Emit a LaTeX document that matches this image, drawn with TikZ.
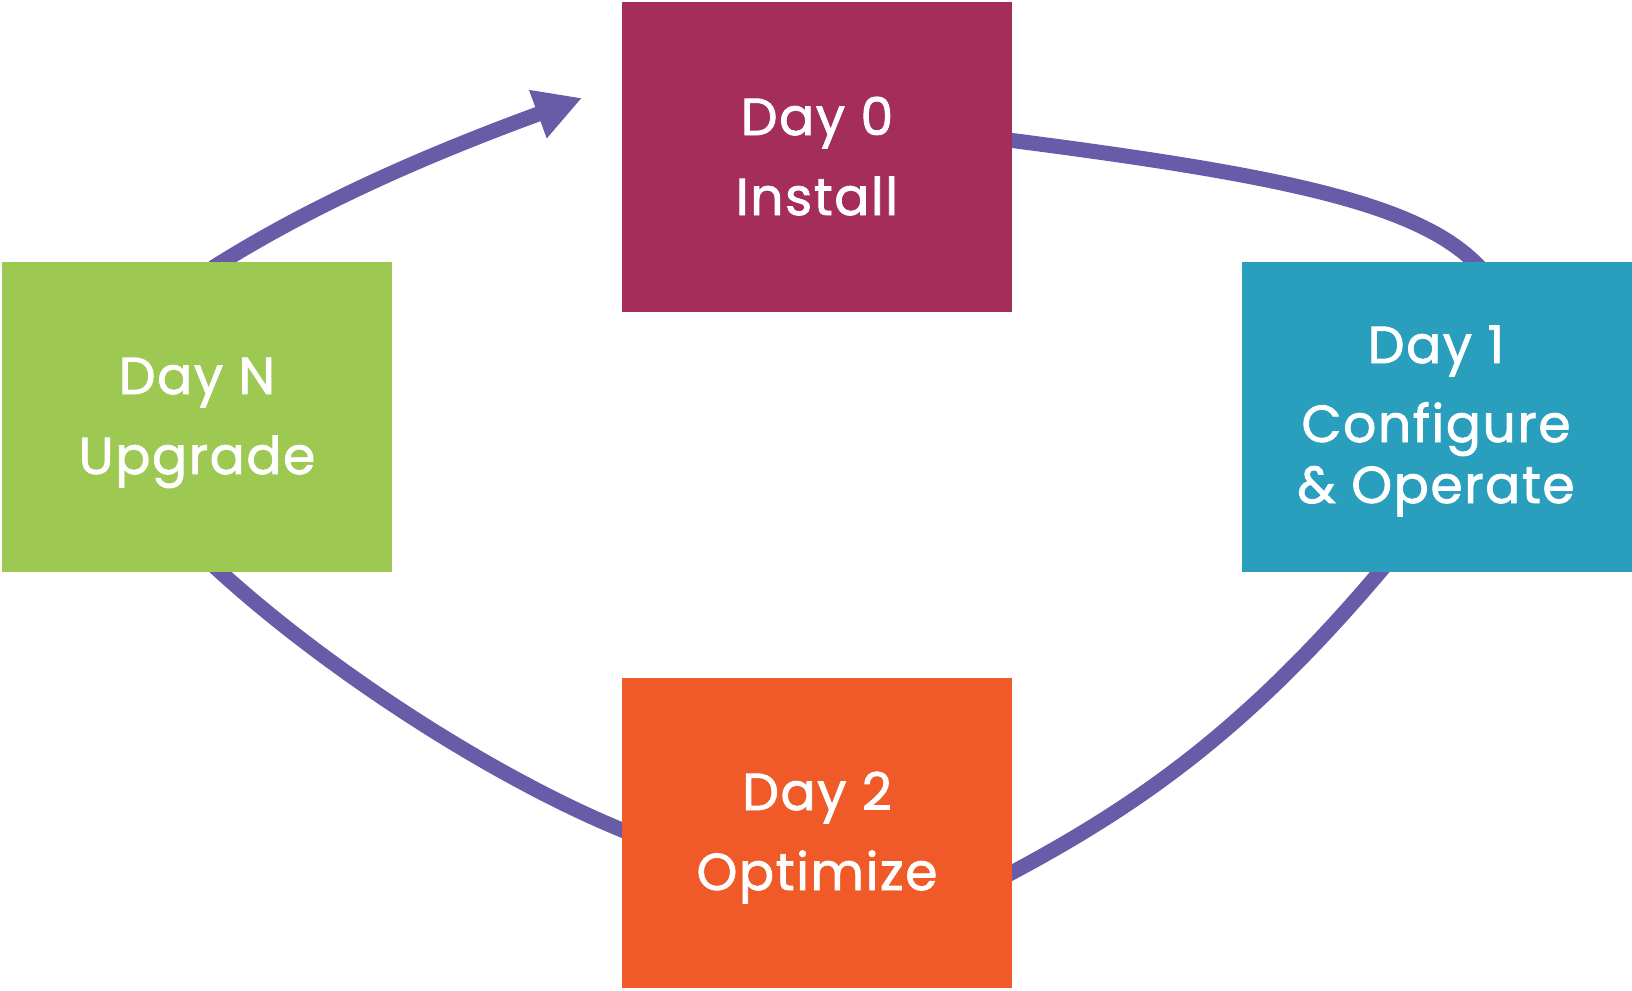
\documentclass[tikz,border=0pt]{standalone}
\usepackage{fontspec}
\setmainfont{Poppins}[LetterSpace=3,FakeBold=1.5]
\usetikzlibrary{arrows.meta}
\pgfdeclarelayer{background}
\pgfsetlayers{background,main}
\definecolor{cday0}{RGB}{165,45,90}
\definecolor{cday1}{RGB}{42,159,189}
\definecolor{cdayn}{RGB}{157,200,82}
\definecolor{cday2}{RGB}{240,90,41}
\definecolor{cflow}{RGB}{104,92,168}
\begin{document}
\begin{tikzpicture}[x=1pt,y=-1pt,
  box/.style={minimum width=390pt,minimum height=310pt,inner sep=0pt,draw=none},
  lbl/.style={text=white,font=\fontsize{52}{52}\selectfont,anchor=base,inner sep=0pt},
  flow/.style={draw=cflow,line width=15pt,shorten <=-12pt},
  flowboth/.style={flow,shorten >=-12pt}]
\useasboundingbox (0,0) rectangle (1632,990);
\node[box,fill=cday0] (b0) at (817,157) {};
\node[box,fill=cday1] (b1) at (1436.5,416.5) {};
\node[box,fill=cdayn] (bn) at (197,416.5) {};
\node[box,fill=cday2] (b2) at (817,832.5) {};

\node[lbl] (l0a) at (817,135) {Day 0};
\node[lbl] (l0b) at (817,215) {Install};
\node[lbl] (l1a) at (1436,363) {Day 1};
\node[lbl] (l1b) at (1436,442) {Configure};
\node[lbl] (l1c) at (1436,503) {\& Operate};
\node[lbl] (lna) at (197,394) {Day N};
\node[lbl] (lnb) at (197,474) {Upgrade};
\node[lbl] (l2a) at (817,810) {Day 2};
\node[lbl] (l2b) at (817,890) {Optimize};

\coordinate (tip) at (582,98);
\begin{pgfonlayer}{background}
\draw[flowboth] ([yshift=16.5pt]b0.east) .. controls (1290,176) and (1425,205) .. ([xshift=38pt]b1.north);
\draw[flowboth] ([xshift=-56.5pt]b1.south) .. controls (1250,727) and (1142,804) .. ([yshift=-40pt]b2.east);
\draw[flowboth] ([yshift=2.5pt]b2.west) .. controls (495,780) and (320,665) .. ([xshift=23pt]bn.south);
\draw[flow,-{Triangle[length=47pt,width=48pt]}] ([xshift=26pt]bn.north) .. controls (320,200) and (440,150) .. (tip);
\end{pgfonlayer}
\end{tikzpicture}
\end{document}
